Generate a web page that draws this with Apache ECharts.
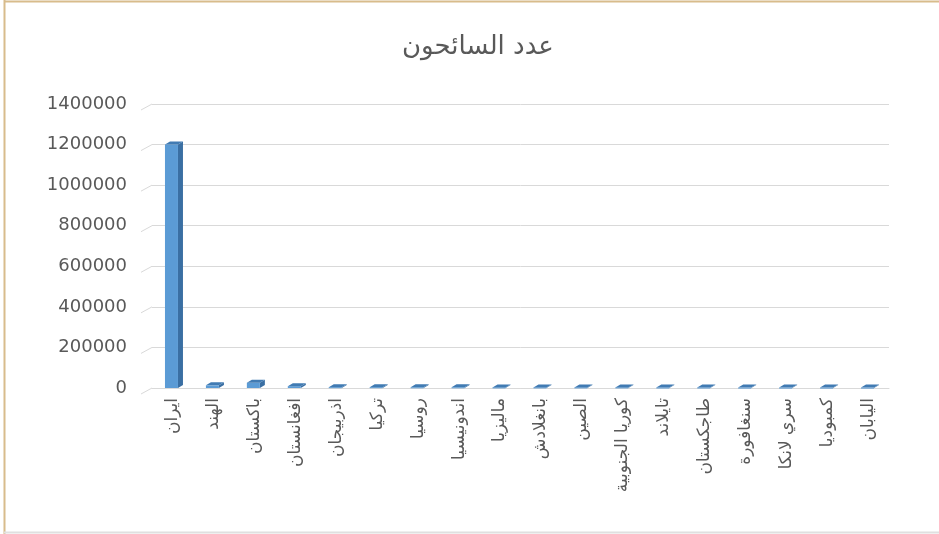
<!DOCTYPE html>
<html>
<head>
<meta charset="utf-8">
<script src="https://cdn.jsdelivr.net/npm/echarts@6/dist/echarts.min.js"></script>
<style>
  html, body { margin: 0; padding: 0; background: #ffffff; }
  #chart { width: 939px; height: 534px; }
</style>
</head>
<body>
<div id="chart"></div>
<script>
// Tourist counts by country of origin
const countries = ['ايران', 'الهند', 'باكستان', 'افغانستان', 'اذربيجان', 'تركيا', 'روسيا', 'اندونيسيا', 'ماليزيا', 'بانغلادش', 'الصين', 'كوريا الجنوبية', 'تايلاند', 'طاجكستان', 'سنغافورة', 'سري لانكا', 'كمبوديا', 'اليابان'];
const tourists = [1200000, 13000, 26000, 9000, 4000, 4000, 3500, 3500, 3000, 3000, 3000, 3000, 2500, 2500, 2000, 2000, 2000, 2000];
const yTicks = [0, 200000, 400000, 600000, 800000, 1000000, 1200000, 1400000];

const chart = echarts.init(document.getElementById('chart'));

// pseudo-3D column: front face, darker side face and top face
function renderColumn(params, api) {
  const top = api.coord([api.value(0), api.value(1)]);
  const base = api.coord([api.value(0), 0]);
  const w = 13, dx = 5, dy = 3;
  const xl = top[0] - w / 2 - 1, xr = xl + w;
  const yt = top[1], yb = base[1];
  return {
    type: 'group',
    children: [
      { type: 'polygon', shape: { points: [[xr, yt], [xr + dx, yt - dy], [xr + dx, yb - dy], [xr, yb]] },
        style: { fill: '#3a6fa3' } },
      { type: 'rect', shape: { x: xl, y: yt, width: w, height: Math.max(yb - yt, 1) },
        style: { fill: '#5b9bd5' } },
      { type: 'polygon', shape: { points: [[xl, yt], [xl + dx, yt - dy], [xr + dx, yt - dy], [xr, yt]] },
        style: { fill: '#417bb3' } }
    ]
  };
}

// short slanted floor/wall edges at the left end of each gridline
function renderEdge(params, api) {
  const p = api.coord([0, api.value(0)]);
  const half = api.size([1, 0])[0] / 2;
  const x = p[0] - half;
  return {
    type: 'line',
    shape: { x1: x - 11, y1: p[1] + 6, x2: x, y2: p[1] },
    style: { stroke: '#d9d9d9', lineWidth: 1 }
  };
}

chart.setOption({
  backgroundColor: '#ffffff',
  animation: false,
  title: {
    text: 'عدد السائحون',
    left: 397,
    top: 29,
    textStyle: { fontFamily: 'DejaVu Sans', fontSize: 26, fontWeight: 'normal', color: '#595959' }
  },
  grid: { left: 152, right: 50, top: 104, bottom: 146 },
  xAxis: {
    type: 'category',
    data: countries,
    axisLine: { show: true, lineStyle: { color: '#d9d9d9' } },
    axisTick: { show: false },
    axisLabel: {
      rotate: 90,
      interval: 0,
      margin: 10,
      fontFamily: 'DejaVu Sans',
      fontSize: 17,
      color: '#595959'
    }
  },
  yAxis: {
    type: 'value',
    min: 0,
    max: 1400000,
    interval: 200000,
    axisLine: { show: false },
    axisTick: { show: false },
    axisLabel: {
      margin: 25,
      fontFamily: 'DejaVu Sans',
      fontSize: 18,
      color: '#595959',
      formatter: v => String(v)
    },
    splitLine: { lineStyle: { color: '#d9d9d9', width: 1 } }
  },
  series: [
    {
      type: 'custom',
      renderItem: renderEdge,
      data: yTicks.map(v => [v]),
      encode: { y: 0 },
      silent: true
    },
    {
      type: 'custom',
      renderItem: renderColumn,
      data: tourists.map((v, i) => [i, v]),
      encode: { x: 0, y: 1 }
    }
  ],
  graphic: [
    { type: 'line', shape: { x1: 4.5, y1: 0, x2: 4.5, y2: 534 }, style: { stroke: '#d8bc8c', lineWidth: 2 } },
    { type: 'line', shape: { x1: 4, y1: 1.5, x2: 939, y2: 1.5 }, style: { stroke: '#d8bc8c', lineWidth: 2 } },
    { type: 'line', shape: { x1: 4, y1: 532.5, x2: 939, y2: 532.5 }, style: { stroke: '#e0e0e0', lineWidth: 2 } }
  ]
});
</script>
</body>
</html>
